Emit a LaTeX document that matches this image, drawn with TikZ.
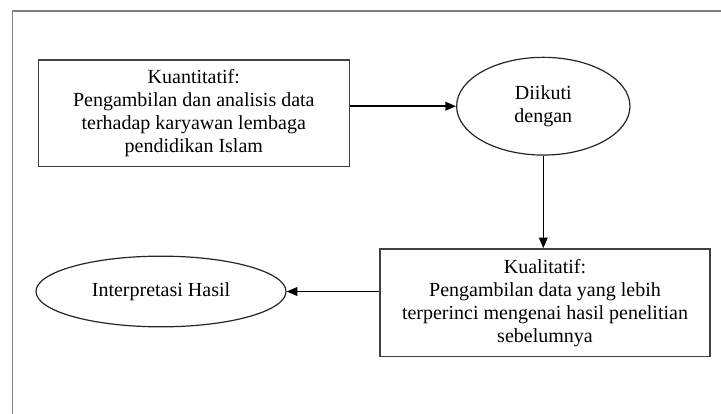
\documentclass[tikz,border=0pt]{standalone}
\usepackage{fontspec}
\setmainfont{Liberation Serif}
\usetikzlibrary{arrows.meta,shapes.geometric}
\begin{document}
\begin{tikzpicture}[x=0.75pt,y=-0.75pt,
  every node/.style={font=\fontsize{15pt}{17.25pt}\selectfont, align=center, inner sep=0pt},
  boxnode/.style={draw=black!75, line width=1.1pt, rectangle},
  ellnode/.style={draw=black!85, line width=0.9pt, ellipse},
  conn/.style={draw=black, line width=1.1pt, -{Triangle[length=8pt,width=6.5pt]}},
  framestyle/.style={draw=black!50, line width=0.8pt}]
\useasboundingbox (0,0) rectangle (721,414);
\draw[framestyle] (12.5,414) -- (12.5,11) -- (721,11);
\node[boxnode, minimum width=233.25pt, minimum height=80pt] (quan) at (193.8,113.3)
  {Kuantitatif:\\Pengambilan dan analisis data\\terhadap karyawan lembaga\\pendidikan Islam};
\node[ellnode, minimum width=130pt, minimum height=73.3pt] (follow) at (543.3,106.2)
  {Diikuti\\dengan};
\node[boxnode, minimum width=247.5pt, minimum height=80.8pt] (qual) at (545,302.8)
  {Kualitatif:\\Pengambilan data yang lebih\\terperinci mengenai hasil penelitian\\sebelumnya};
\node[ellnode, minimum width=187.5pt, minimum height=53pt] (interp) at (161,291.5)
  {Interpretasi Hasil};
\draw[conn] (quan.east |- follow.west) -- (follow.west);
\draw[conn] (follow.south) -- (follow.south |- qual.north);
\draw[conn] (qual.west |- interp.east) -- (interp.east);
\end{tikzpicture}
\end{document}
